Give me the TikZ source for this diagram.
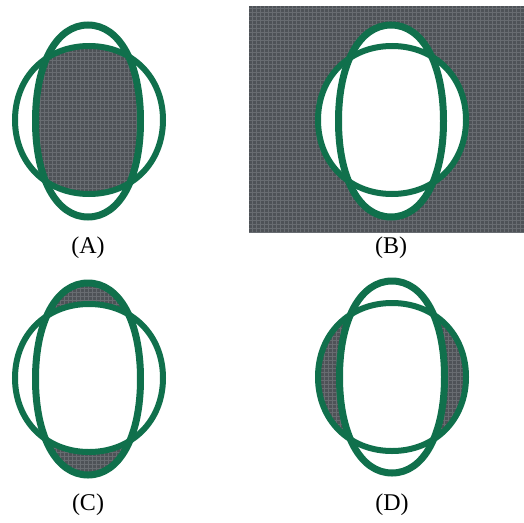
\documentclass[tikz,border=0pt]{standalone}
\usepackage{fontspec}
\setmainfont{Liberation Serif}
\definecolor{eg}{RGB}{16,112,76}
\definecolor{patbg}{RGB}{78,82,87}
\definecolor{patln}{RGB}{104,108,113}
\newcommand\patfillarea{%
  \fill[patbg] (0,0) rectangle (524,522);
  \foreach \k in {0,4,...,524} {
    \draw[patln, line width=0.6pt] (\k,0) -- (\k,522);
    \draw[patln, line width=0.6pt] (0,\k) -- (524,\k);
  }}
% rounded-square oval: centre x, centre y, half width, half height, control factor
\newcommand\sqoval[5]{(#1+#3,#2) .. controls (#1+#3,#2+#5*#4) and (#1+#5*#3,#2+#4) .. (#1,#2+#4)
  .. controls (#1-#5*#3,#2+#4) and (#1-#3,#2+#5*#4) .. (#1-#3,#2)
  .. controls (#1-#3,#2-#5*#4) and (#1-#5*#3,#2-#4) .. (#1,#2-#4)
  .. controls (#1+#5*#3,#2-#4) and (#1+#3,#2-#5*#4) .. (#1+#3,#2) -- cycle}
\newcommand\tallo[2]{\sqoval{#1}{#2}{52.5}{96}{0.6}}
\newcommand\wideo[2]{\sqoval{#1}{#2}{74}{74}{0.58}}
\begin{document}
\begin{tikzpicture}[x=1pt,y=-1pt,
  tallst/.style={draw=eg,line width=7pt},
  widest/.style={draw=eg,line width=6pt},
  lab/.style={font=\fontsize{24}{27}\selectfont, inner sep=0pt}]
\useasboundingbox (0,0) rectangle (524,522);
\fill[white] (0,0) rectangle (524,522);
% ---------- (A) intersection
\begin{scope}
  \clip \tallo{88}{121};
  \clip \wideo{89}{120};
  \patfillarea
\end{scope}
\draw[widest] \wideo{89}{120};
\draw[tallst] \tallo{88}{121};
\node[lab] (labA) at (88,248) {(A)};
% ---------- (B) complement of union
\begin{scope}
  \clip (249,6) rectangle (524,232);
  \patfillarea
\end{scope}
\fill[white] \wideo{392}{120};
\fill[white] \tallo{391}{121};
\draw[widest] \wideo{392}{120};
\draw[tallst] \tallo{391}{121};
\node[lab] (labB) at (391,248) {(B)};
% ---------- (C) tall minus wide
\begin{scope}
  \clip \tallo{88}{379};
  \patfillarea
\end{scope}
\fill[white] \wideo{89}{378};
\draw[widest] \wideo{89}{378};
\draw[tallst] \tallo{88}{379};
\node[lab] (labC) at (88,505) {(C)};
% ---------- (D) wide minus tall
\begin{scope}
  \clip \wideo{392}{377};
  \patfillarea
\end{scope}
\fill[white] \tallo{392}{377};
\draw[widest] \wideo{392}{377};
\draw[tallst] \tallo{392}{377};
\node[lab] (labD) at (392,505) {(D)};
\end{tikzpicture}
\end{document}
